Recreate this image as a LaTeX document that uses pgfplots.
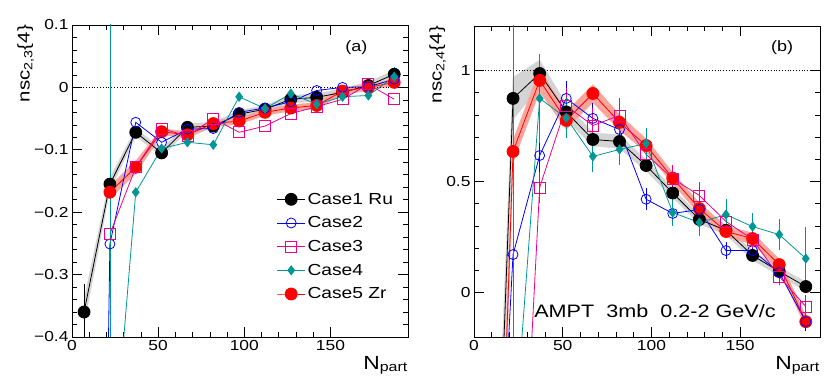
\documentclass[border=0pt]{standalone}
\usepackage{fontspec}
\setmainfont{Liberation Sans}[FakeStretch=1.2]
\usepackage{pgfplots}
\pgfplotsset{compat=1.18}

\definecolor{cteal}{RGB}{0,150,150}
\definecolor{gband}{RGB}{212,212,212}
\definecolor{rband}{RGB}{250,165,155}

\pgfplotsset{
  rootax/.style={scale only axis, xmin=0, xmax=195,
    tick align=inside, xtick pos=both, ytick pos=both,
    xticklabel pos=lower, yticklabel pos=left,
    major tick length=10pt, minor tick length=5pt,
    tick style={black, line width=0.6pt}, axis line style={line width=0.8pt},
    xtick={0,50,100,150}, minor x tick num=4,
    /pgf/number format/assume math mode=true,
    tick label style={font=\fontsize{14.5}{16}\selectfont},
    xlabel={N\textsubscript{part}},
    xlabel style={at={(axis description cs:1,0)}, anchor=north east, inner sep=0pt, yshift=-19pt, font=\fontsize{19}{20}\selectfont},
    ylabel style={at={(axis description cs:0,1)}, anchor=south east, inner sep=0pt, font=\fontsize{17}{18}\selectfont},
    legend cell align=left,
    legend image code/.code={\draw[mark repeat=2,mark phase=2] plot coordinates {(0pt,0pt) (14pt,0pt) (28pt,0pt)};},
  },
  ebar/.style={error bars/y dir=both, error bars/y explicit, error bars/error mark=none,
    error bars/error bar style={line width=0.8pt}},
  s1/.style={black, line width=0.8pt, mark=*, mark size=6pt, ebar},
  s2/.style={blue, line width=0.8pt, mark=o, mark size=5pt, ebar},
  s3/.style={magenta, line width=0.8pt, mark=square, mark size=5.5pt, ebar},
  s4/.style={cteal, line width=0.8pt, mark=diamond*, mark size=4.5pt, ebar},
  s5/.style={red, line width=0.8pt, mark=*, mark size=6pt, ebar},
}

\begin{document}
\begin{tikzpicture}
\useasboundingbox (0,0) rectangle (830pt,385pt);

% ---------------- panel (a)
\begin{axis}[rootax, at={(72pt,48pt)}, anchor=south west, width=336pt, height=312pt,
  ymin=-0.4, ymax=0.1, ytick={-0.4,-0.3,-0.2,-0.1,0,0.1},
  yticklabels={−0.4,−0.3,−0.2,−0.1,0,0.1}, minor y tick num=4,
  ylabel={nsc\textsubscript{2,3}\{4\}}, ylabel style={yshift=38pt},
  legend style={at={(0.6,0.475)}, anchor=north west, draw=none, fill=none,
    font=\fontsize{16}{18}\selectfont, row sep=7pt}]
% bands: upper edge left to right, then lower edge right to left
\addplot[gband, fill=gband, forget plot] coordinates {(7,-0.340) (22,-0.145) (37,-0.066) (52,-0.099) (67,-0.058) (82,-0.056) (97,-0.037) (112,-0.029) (127,-0.013) (142,-0.010) (157,-0.002) (172,0.009) (187,0.027)
  (187,0.015) (172,-0.003) (157,-0.014) (142,-0.022) (127,-0.025) (112,-0.041) (97,-0.049) (82,-0.068) (67,-0.070) (52,-0.111) (37,-0.078) (22,-0.165) (7,-0.380)} -- cycle;
\addplot[rband, fill=rband, forget plot] coordinates {(22,-0.158) (37,-0.118) (52,-0.066) (67,-0.071) (82,-0.053) (97,-0.049) (112,-0.035) (127,-0.028) (142,-0.024) (157,-0.001) (172,0.005) (187,0.013)
  (187,0.003) (172,-0.005) (157,-0.011) (142,-0.034) (127,-0.038) (112,-0.045) (97,-0.059) (82,-0.063) (67,-0.081) (52,-0.076) (37,-0.138) (22,-0.178)} -- cycle;
\draw[black, dotted, line width=0.8pt] (axis cs:0,0) -- (axis cs:195,0);

\addplot[forget plot, s1] coordinates {(7,-0.360) +- (0,0.045) (22,-0.155) (37,-0.072) (52,-0.105) (67,-0.064) (82,-0.062) (97,-0.043) (112,-0.035) (127,-0.019) (142,-0.016) (157,-0.008) (172,0.003) (187,0.021)};
\addplot[forget plot, s5] coordinates {(22,-0.168) (37,-0.128) (52,-0.071) (67,-0.076) (82,-0.058) (97,-0.054) (112,-0.040) (127,-0.033) (142,-0.029) (157,-0.006) (172,0.000) (187,0.008)};
\addplot[forget plot, s2] coordinates {(7,-3) (22,-0.251) +- (0,0.01) (37,-0.056) (52,-0.088) (67,-0.067) (82,-0.066) (97,-0.040) (112,-0.033) (127,-0.023) (142,-0.005) (157,0.000) (172,0.001) (187,0.013)};
\addplot[forget plot, s3] coordinates {(22,-0.235) +- (0,1) (37,-0.128) (52,-0.066) (67,-0.078) (82,-0.050) (97,-0.072) (112,-0.062) (127,-0.042) (142,-0.031) (157,-0.019) (172,0.005) (187,-0.019)};
\addplot[forget plot, s4] coordinates {(22,-0.67) +- (0,2) (37,-0.168) (52,-0.098) (67,-0.088) (82,-0.092) (97,-0.015) (112,-0.034) (127,-0.010) (142,-0.027) (157,-0.015) (172,-0.013) (187,0.017) +- (0,0.015)};
\addlegendimage{s1}\addlegendentry{Case1 Ru}
\addlegendimage{s2}\addlegendentry{Case2}
\addlegendimage{s3}\addlegendentry{Case3}
\addlegendimage{s4}\addlegendentry{Case4}
\addlegendimage{s5}\addlegendentry{Case5 Zr}
\node[font=\fontsize{15}{16}\selectfont] at (axis cs:165,0.064) {(a)};
\end{axis}

% ---------------- panel (b)
\begin{axis}[rootax, at={(474pt,48pt)}, anchor=south west, width=346pt, height=311pt,
  ymin=-0.2, ymax=1.2, ytick={0,0.5,1}, minor y tick num=4,
  ylabel={nsc\textsubscript{2,4}\{4\}}, ylabel style={yshift=28pt}]
\addplot[gband, fill=gband, forget plot] coordinates {(7,-2.0) (22,0.969) (37,1.046) (52,0.848) (67,0.719) (82,0.710) (97,0.597) (112,0.468) (127,0.349) (142,0.300) (157,0.187) (172,0.115) (187,0.047)
  (187,0.007) (172,0.075) (157,0.147) (142,0.260) (127,0.309) (112,0.428) (97,0.547) (82,0.650) (67,0.659) (52,0.778) (37,0.926) (22,0.779) (7,-2.6)} -- cycle;
\addplot[rband, fill=rband, forget plot] coordinates {(7,-2.6) (22,0.685) (37,1.005) (52,0.815) (67,0.936) (82,0.801) (97,0.692) (112,0.540) (127,0.403) (142,0.300) (157,0.268) (172,0.151) (187,-0.106)
  (187,-0.156) (172,0.101) (157,0.218) (142,0.250) (127,0.353) (112,0.490) (97,0.632) (82,0.731) (67,0.856) (52,0.735) (37,0.905) (22,0.585) (7,-3.2)} -- cycle;
\draw[black, dotted, line width=0.8pt] (axis cs:0,1) -- (axis cs:195,1);

\addplot[s1] coordinates {(7,-2.3) (22,0.874) +- (0,0.095) (37,0.986) +- (0,0.02) (52,0.813) +- (0,0.03) (67,0.689) +- (0,0.02) (82,0.680) +- (0,0.02) (97,0.572) +- (0,0.02) (112,0.448) +- (0,0.02) (127,0.329) +- (0,0.02) (142,0.280) +- (0,0.02) (157,0.167) +- (0,0.02) (172,0.095) +- (0,0.02) (187,0.027) +- (0,0.02)};
\addplot[s5] coordinates {(7,-2.9) (22,0.635) +- (0,0.03) (37,0.955) +- (0,0.03) (52,0.775) (67,0.896) (82,0.766) (97,0.662) (112,0.515) (127,0.378) (142,0.275) (157,0.243) (172,0.126) (187,-0.131)};
\addplot[s2] coordinates {(7,-2.1) (22,0.171) +- (0,0.1) (37,0.617) +- (0,0.08) (52,0.874) +- (0,0.08) (67,0.784) +- (0,0.07) (82,0.734) +- (0,0.06) (97,0.420) +- (0,0.05) (112,0.356) +- (0,0.04) (127,0.374) +- (0,0.04) (142,0.189) +- (0,0.04) (157,0.189) +- (0,0.04) (172,0.090) +- (0,0.04) (187,-0.131) +- (0,0.04)};
\addplot[s3] coordinates {(22,-1.82) +- (0,3) (37,0.473) +- (0,0.07) (52,0.840) +- (0,0.08) (67,0.752) +- (0,0.08) (82,0.797) +- (0,0.08) (97,0.622) +- (0,0.07) (112,0.513) +- (0,0.06) (127,0.437) +- (0,0.06) (142,0.320) +- (0,0.05) (157,0.239) +- (0,0.04) (172,0.072) +- (0,0.04) (187,-0.063) +- (0,0.05)};
\addplot[s4] coordinates {(22,-0.74) +- (0,3) (37,0.874) +- (0,0.2) (52,0.786) +- (0,0.09) (67,0.613) +- (0,0.07) (82,0.644) +- (0,0.07) (97,0.671) +- (0,0.07) (112,0.360) +- (0,0.06) (127,0.315) +- (0,0.06) (142,0.351) +- (0,0.07) (157,0.297) +- (0,0.06) (172,0.261) +- (0,0.07) (187,0.153) +- (0,0.14)};
\node[anchor=west, font=\fontsize{18}{19}\selectfont] at (axis cs:32,-0.085) {AMPT\ \ 3mb\ \ 0.2-2 GeV/c};
\node[font=\fontsize{15}{16}\selectfont] at (axis cs:173.6,1.104) {(b)};
\end{axis}
\end{tikzpicture}
\end{document}
